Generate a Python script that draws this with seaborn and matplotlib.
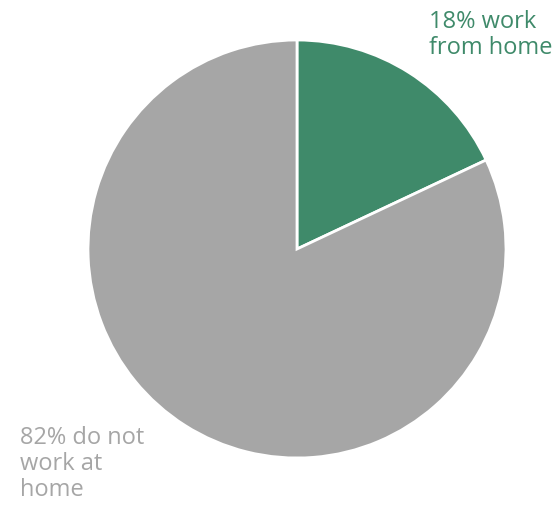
import matplotlib
matplotlib.use("Agg")
import matplotlib.pyplot as plt
import seaborn as sns

categories = ["work from home", "do not work at home"]
shares = [18, 82]
labels = ["18% work\nfrom home", "82% do not\nwork at\nhome"]
colors = ["#3f8a6a", "#a6a6a6"]

sns.set_theme(style="white")
plt.rcParams['font.family'] = ['Open Sans', 'DejaVu Sans']

fig = plt.figure(figsize=(5.55, 5.07), dpi=100)
ax = fig.add_axes([0, 0, 1, 1])
ax.pie(shares, colors=colors, startangle=90, counterclock=False,
       wedgeprops=dict(edgecolor="white", linewidth=2))
ax.set_xlim(-297/209, (555-297)/209)
ax.set_ylim(-(507-249)/209, 249/209)
ax.set_aspect("auto")
ax.axis("off")

fig.text(429/555, 1-10/507, labels[0], color=colors[0], fontsize=17,
         ha="left", va="top", linespacing=1.12)
fig.text(20/555, 1-426/507, labels[1], color=colors[1], fontsize=17,
         ha="left", va="top", linespacing=1.12)

fig.savefig("out.png", dpi=100)
